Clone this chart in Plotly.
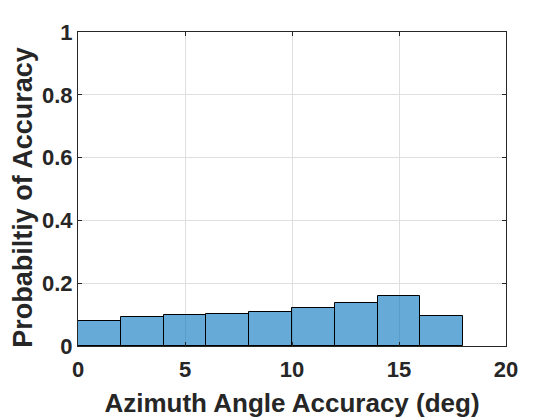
import plotly.graph_objects as go

# histogram bin edges (deg) and normalised probability per bin
bin_edges = [0, 2, 4, 6, 8, 10, 12, 14, 16, 18]
probability = [0.081, 0.0915, 0.098, 0.101, 0.1075, 0.120, 0.136, 0.1585, 0.095]

x_ticks = [0, 5, 10, 15, 20]
y_ticks = [0, 0.2, 0.4, 0.6, 0.8, 1]

centers = [(a + b) / 2 for a, b in zip(bin_edges[:-1], bin_edges[1:])]
widths = [b - a for a, b in zip(bin_edges[:-1], bin_edges[1:])]

AX = "#262626"
FONT = "Liberation Sans, Arial, sans-serif"

fig = go.Figure(
    go.Bar(
        x=centers,
        y=probability,
        width=widths,
        marker=dict(color="rgba(0,114,189,0.6)", line=dict(color="black", width=1)),
    )
)

axis_common = dict(
    showline=True,
    linecolor=AX,
    linewidth=1,
    mirror="ticks",
    ticks="inside",
    ticklen=4,
    tickcolor=AX,
    showgrid=True,
    gridcolor="#dfdfdf",
    gridwidth=1,
    zeroline=False,
    automargin=False,
    tickfont=dict(family=FONT, size=22, color=AX, weight="bold"),
)

fig.update_xaxes(
    range=[0, 20],
    tickvals=x_ticks,
    ticklabelstandoff=4,
    title=dict(text="Azimuth Angle Accuracy (deg)", standoff=12,
               font=dict(family=FONT, size=26, color=AX, weight="bold")),
    **axis_common,
)
fig.update_yaxes(range=[0, 1], tickvals=y_ticks, **axis_common)

# y label as an annotation so it can sit a little below the axis centre
fig.add_annotation(
    text="Probabiltiy of Accuracy",
    textangle=-90,
    xref="paper", yref="paper",
    x=-0.127, y=0.474,
    xanchor="center", yanchor="middle",
    showarrow=False,
    font=dict(family=FONT, size=27, color=AX, weight="bold"),
)

# the page body adds an 8px offset, so size/margins are reduced to compensate
fig.update_layout(
    width=552,
    height=412,
    margin=dict(l=70, r=54, t=24, b=74),
    paper_bgcolor="white",
    plot_bgcolor="white",
    showlegend=False,
    bargap=0,
)

fig.write_html("out.html")
